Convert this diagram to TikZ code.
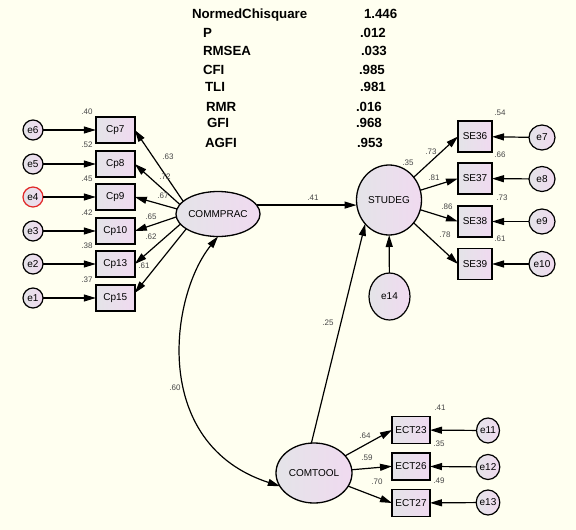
\documentclass[tikz,border=0pt]{standalone}
\usepackage{fontspec}
\setmainfont{Liberation Sans}
\usetikzlibrary{arrows.meta,shapes.geometric}
\definecolor{bg}{RGB}{255,255,240}
\definecolor{fillL}{RGB}{228,228,232}
\definecolor{fillR}{RGB}{240,218,240}
\definecolor{numcol}{RGB}{70,70,70}
\definecolor{errred}{RGB}{225,40,40}
\begin{document}
\begin{tikzpicture}[x=1pt,y=-1pt,
  every node/.style={font=\fontsize{10}{12}\selectfont, inner sep=0pt, outer sep=0pt},
  obsL/.style={draw, line width=1.4pt, rectangle, minimum width=39pt, minimum height=26pt, left color=fillL, right color=fillR},
  obsR/.style={draw, line width=1.4pt, rectangle, minimum width=34pt, minimum height=31pt, left color=fillL, right color=fillR},
  obsE/.style={draw, line width=1.4pt, rectangle, minimum width=38pt, minimum height=27pt, left color=fillL, right color=fillR},
  errc/.style={draw, line width=1.2pt, ellipse, left color=fillL, right color=fillR},
  latent/.style={draw, line width=1.3pt, ellipse, left color=fillL, right color=fillR},
  num/.style={font=\fontsize{8}{9}\selectfont, text=numcol},
  stat/.style={font=\bfseries\fontsize{13.3}{15}\selectfont, anchor=base west},
  arr/.style={-{Triangle[length=12pt,width=7pt]}, line width=1.2pt},
  dbl/.style={{Triangle[length=12pt,width=7pt]}-{Triangle[length=12pt,width=7pt]}, line width=1.2pt}
]
\fill[bg] (0,0) rectangle (576,530);
\useasboundingbox (0,0) rectangle (576,530);

% fit statistics
\node[stat] (s1) at (192,18.5) {NormedChisquare};
\node[stat] (s2) at (203,37.2) {P};
\node[stat] (s3) at (203,55.2) {RMSEA};
\node[stat] (s4) at (203,74.5) {CFI};
\node[stat] (s5) at (205,91.8) {TLI};
\node[stat] (s6) at (206,111.2) {RMR};
\node[stat] (s7) at (207,127.8) {GFI};
\node[stat] (s8) at (205,147.2) {AGFI};
\node[stat] (v1) at (364,18.5) {1.446};
\node[stat] (v2) at (360,37.2) {.012};
\node[stat] (v3) at (361,55.2) {.033};
\node[stat] (v4) at (359,74.5) {.985};
\node[stat] (v5) at (360,91.8) {.981};
\node[stat] (v6) at (356,111.2) {.016};
\node[stat] (v7) at (356,127.8) {.968};
\node[stat] (v8) at (357,147.2) {.953};

% latent variables
\node[latent, minimum width=83pt, minimum height=45pt] (COMMPRAC) at (218,214) {COMMPRAC};
\node[latent, minimum width=65pt, minimum height=70pt] (STUDEG) at (389,200) {STUDEG};
\node[latent, minimum width=76pt, minimum height=60pt] (COMTOOL) at (314,473) {COMTOOL};
\node[errc, minimum width=41pt, minimum height=47pt] (e14) at (389.5,296.5) {e14};

% left indicators
\node[obsL] (Cp7)  at (115.3,130) {Cp7};
\node[obsL] (Cp8)  at (115.3,164) {Cp8};
\node[obsL] (Cp9)  at (115.3,197) {Cp9};
\node[obsL] (Cp10) at (115.3,231) {Cp10};
\node[obsL] (Cp13) at (115.3,264) {Cp13};
\node[obsL] (Cp15) at (115.3,298) {Cp15};
\node[errc, minimum size=20pt] (e6) at (33,130) {e6};
\node[errc, minimum size=20pt] (e5) at (33,164) {e5};
\node[errc, minimum size=20pt, draw=errred] (e4) at (33,197) {e4};
\node[errc, minimum size=20pt] (e3) at (33,231) {e3};
\node[errc, minimum size=20pt] (e2) at (33,264) {e2};
\node[errc, minimum size=20pt] (e1) at (33,298) {e1};

% right indicators
\node[obsR] (SE36) at (475,136.5) {SE36};
\node[obsR] (SE37) at (475,178.5) {SE37};
\node[obsR] (SE38) at (475,221.5) {SE38};
\node[obsR] (SE39) at (475,264) {SE39};
\node[errc, minimum width=26pt, minimum height=25pt] (e7)  at (542,137.5) {e7};
\node[errc, minimum width=26pt, minimum height=25pt] (e8)  at (542,179) {e8};
\node[errc, minimum width=26pt, minimum height=25pt] (e9)  at (542,221.5) {e9};
\node[errc, minimum width=26pt, minimum height=25pt] (e10) at (542,264) {e10};

% bottom indicators
\node[obsE] (ECT23) at (411,430) {ECT23};
\node[obsE] (ECT26) at (411,466.3) {ECT26};
\node[obsE] (ECT27) at (411,503) {ECT27};
\node[errc, minimum width=23pt, minimum height=25pt] (e11) at (488,430.5) {e11};
\node[errc, minimum width=23pt, minimum height=25pt] (e12) at (488,467) {e12};
\node[errc, minimum width=23pt, minimum height=25pt] (e13) at (488,502.5) {e13};

% error arrows
\foreach \e/\b in {e6/Cp7,e5/Cp8,e4/Cp9,e3/Cp10,e2/Cp13,e1/Cp15,e7/SE36,e8/SE37,e9/SE38,e10/SE39,e11/ECT23,e12/ECT26,e13/ECT27,e14/STUDEG}
  \draw[arr] (\e) -- (\b);

% loadings COMMPRAC
\draw[arr] (COMMPRAC.160) -- (Cp7.east);
\draw[arr] (COMMPRAC.166) -- (Cp8.east);
\draw[arr] (COMMPRAC.173) -- (Cp9.east);
\draw[arr] (COMMPRAC.184) -- (Cp10.east);
\draw[arr] (COMMPRAC.195) -- (Cp13.east);
\draw[arr] (COMMPRAC.205) -- ([yshift=5pt]Cp15.east);

% loadings STUDEG
\foreach \b in {SE36,SE37,SE38,SE39}
  \draw[arr] (STUDEG) -- (\b.west);

% loadings COMTOOL
\foreach \b in {ECT23,ECT26,ECT27}
  \draw[arr] (COMTOOL) -- (\b.west);

% structural paths
\draw[arr] (COMMPRAC.13) -- (COMMPRAC.13 -| STUDEG.west);
\draw[arr] (COMTOOL.95) -- (STUDEG.225);
\draw[dbl] (COMMPRAC.270) .. controls (170,296) and (150,444) .. (COMTOOL.201);

% numbers
\node[num] (n40) at (87,112) {.40};
\node[num] (n52) at (87,145) {.52};
\node[num] (n45) at (87,179) {.45};
\node[num] (n42) at (87,213) {.42};
\node[num] (n38) at (87,246) {.38};
\node[num] (n37) at (87,280) {.37};
\node[num] (l63) at (168,157) {.63};
\node[num] (l72) at (165,177) {.72};
\node[num] (l67) at (163,196) {.67};
\node[num] (l65) at (151,217) {.65};
\node[num] (l62) at (151,237) {.62};
\node[num] (l61) at (144,266) {.61};
\node[num] (l41) at (313,198) {.41};
\node[num] (l25) at (328,323) {.25};
\node[num] (l60) at (175,388) {.60};
\node[num] (r35) at (408,163) {.35};
\node[num] (l73) at (431,152) {.73};
\node[num] (l81) at (434,178) {.81};
\node[num] (l86) at (447,207) {.86};
\node[num] (l78) at (445,235) {.78};
\node[num] (r54) at (500,113) {.54};
\node[num] (r66) at (500,155) {.66};
\node[num] (r73) at (502,198) {.73};
\node[num] (r61) at (500,239) {.61};
\node[num] (l64) at (365,436) {.64};
\node[num] (l59) at (367,458) {.59};
\node[num] (l70) at (377,482) {.70};
\node[num] (r41) at (440,408) {.41};
\node[num] (r35b) at (439,444) {.35};
\node[num] (r49) at (439,481) {.49};
\end{tikzpicture}
\end{document}
